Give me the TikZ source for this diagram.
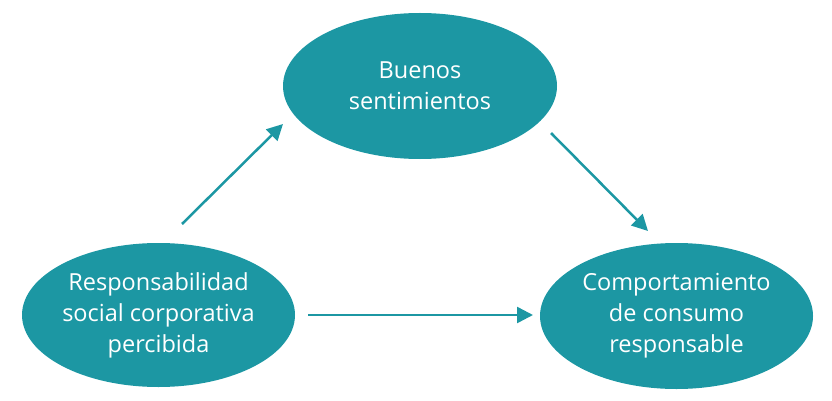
\documentclass[tikz,border=0pt]{standalone}
\usepackage{fontspec}
\setmainfont{Open Sans}
\usetikzlibrary{shapes.geometric,arrows.meta}
\definecolor{teal1}{HTML}{1C97A3}
\tikzset{
  bubble/.style={ellipse, fill=teal1, draw=none, text=white, align=center,
    inner sep=0pt, font=\fontsize{23.5}{31}\selectfont},
  link/.style={draw=teal1, line width=2.5pt, -{Triangle[length=16pt,width=16pt]}}
}
\begin{document}
\begin{tikzpicture}[x=1pt,y=-1pt]
\useasboundingbox (0,0) rectangle (832,401);
\node[bubble, minimum width=274pt, minimum height=146pt] (B) at (420,86) {Buenos\\sentimientos};
\node[bubble, minimum width=273pt, minimum height=144pt] (L) at (158.5,315) {Responsabilidad\\social corporativa\\percibida};
\node[bubble, minimum width=273pt, minimum height=146pt] (R) at (676.5,316) {Comportamiento\\de consumo\\responsable};
\coordinate (a1s) at (182,224);
\coordinate (a1e) at (283,124);
\coordinate (a2s) at (551,133);
\coordinate (a2e) at (648,231);
\coordinate (a3s) at (308,315);
\coordinate (a3e) at (533,315);
\draw[link] (a1s) -- (a1e);
\draw[link] (a2s) -- (a2e);
\draw[link] (a3s) -- (a3e);
\end{tikzpicture}
\end{document}
